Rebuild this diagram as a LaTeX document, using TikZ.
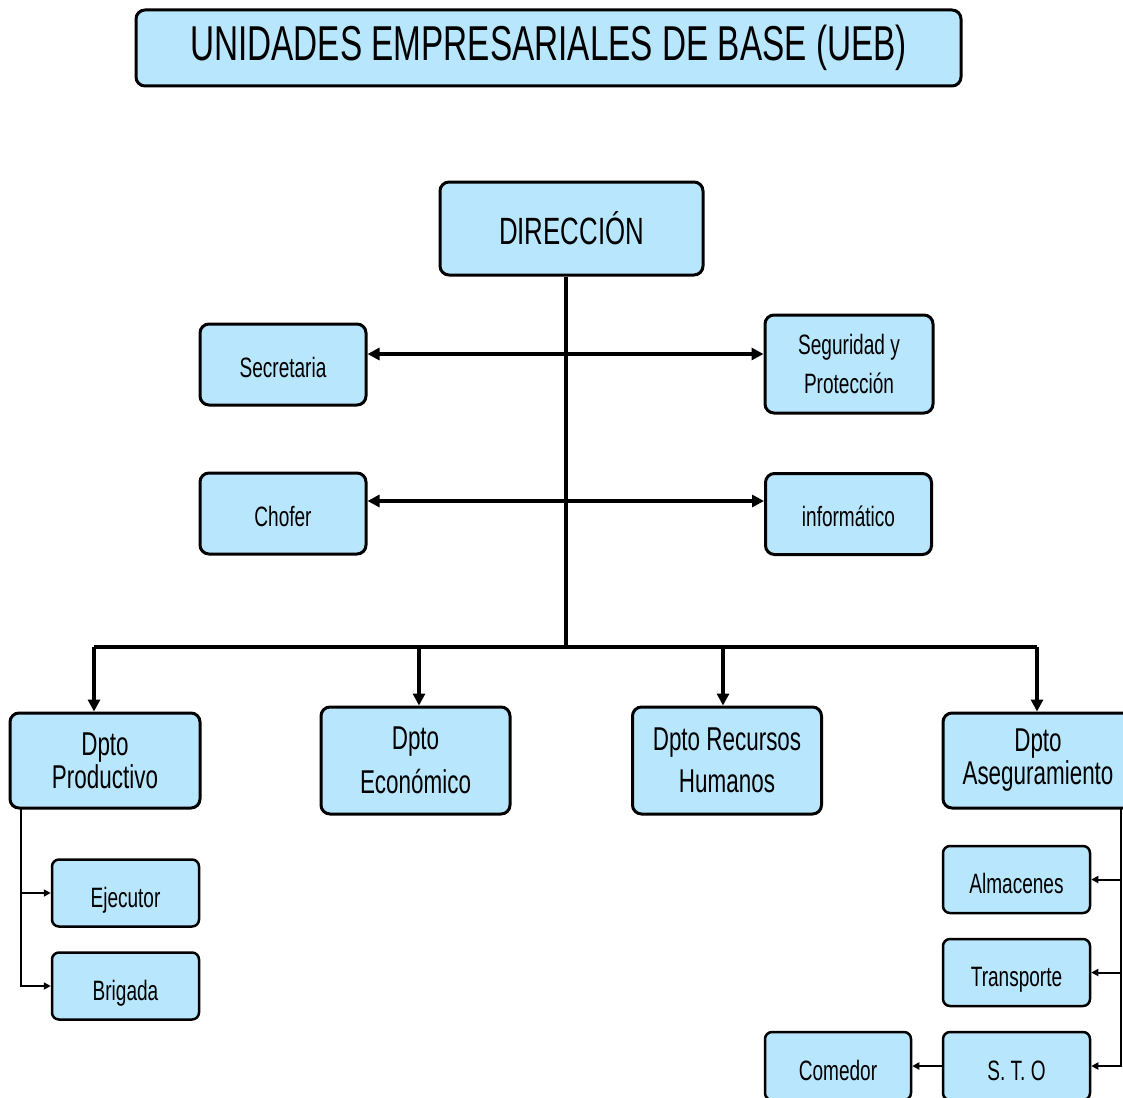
\documentclass[tikz,border=0pt]{standalone}
\usepackage{fontspec}
\setmainfont{Liberation Sans}[FakeStretch=0.68]
\usepackage{tikz}
\usetikzlibrary{
  positioning,
  arrows.meta
}
\definecolor{boxblue}{RGB}{184,230,252}
\tikzstyle{unitbox}=[draw=black, fill=boxblue, line width=3pt, rounded corners=9pt, align=center, inner sep=0pt]
\tikzstyle{staffbox}=[unitbox, minimum width=166pt, minimum height=81pt, font=\fontsize{28}{39}\selectfont]
\tikzstyle{onestaff}=[staffbox, text height=25pt, text depth=0pt]
\tikzstyle{dptobox}=[unitbox, minimum width=190pt, minimum height=95pt, font=\fontsize{33}{33}\selectfont]
\tikzstyle{subbox}=[unitbox, line width=2.5pt, rounded corners=7pt, minimum width=147pt, minimum height=67pt, text height=28pt, text depth=0pt, font=\fontsize{28}{34}\selectfont]
\tikzstyle{mainline}=[line width=4pt]
\tikzstyle{mainarrow}=[line width=4pt, -{Triangle[length=12pt,width=12pt]}]
\tikzstyle{mainboth}=[line width=4pt, {Triangle[length=12pt,width=12pt]}-{Triangle[length=12pt,width=12pt]}]
\tikzstyle{subarrow}=[line width=2pt, -{Triangle[length=7pt,width=7pt]}]

\begin{document}
\begin{tikzpicture}[x=1pt, y=-1pt]
    \useasboundingbox (0,0) rectangle (1123,1097);

    % titulo
    \node[unitbox, minimum width=825pt, minimum height=76pt, font=\fontsize{49}{49}\selectfont]
      (titulo) at (548.5,48) {UNIDADES EMPRESARIALES DE BASE (UEB)};

    % direccion y staff
    \node[unitbox, minimum width=263pt, minimum height=93pt, font=\fontsize{38}{38}\selectfont]
      (dir) at (571.5,228.5) {DIRECCIÓN};
    \node[onestaff] (secre)  at (283,364.5) {Secretaria};
    \node[staffbox, minimum width=168pt, minimum height=98pt] (segur) at (849,364) {Seguridad y\\Protección};
    \node[onestaff] (chofer) at (283,513.5) {Chofer};
    \node[onestaff] (info)   at (848.5,514) {informático};

    % departamentos
    \node[dptobox] (prod) at (105,760.5) {Dpto\\Productivo};
    \node[dptobox, minimum width=189pt, minimum height=107pt, font=\fontsize{33}{44}\selectfont]
      (econ) at (415.5,760.5) {Dpto\\Económico};
    \node[dptobox, minimum width=189pt, minimum height=107pt, font=\fontsize{33}{42}\selectfont]
      (rrhh) at (727,760.5) {Dpto Recursos\\Humanos};
    \node[dptobox] (aseg) at (1038,760.5) {Dpto\\Aseguramiento};

    % subordinados
    \node[subbox] (ejec)    at (125.5,893) {Ejecutor};
    \node[subbox] (brig)    at (125.5,986) {Brigada};
    \node[subbox] (alm)     at (1016.5,879.5) {Almacenes};
    \node[subbox] (transp)  at (1016.5,972.5) {Transporte};
    \node[subbox, minimum height=68pt] (sto) at (1016.5,1066) {S. T. O};
    \node[subbox, minimum width=146pt, minimum height=68pt] (comedor) at (838,1066) {Comedor};

    % puntos de la red
    \coordinate (bus) at (566,647);
    \coordinate (r1)  at (566,354);
    \coordinate (r2)  at (566,501);
    \coordinate (b1)  at (94,647);
    \coordinate (b2)  at (419,647);
    \coordinate (b3)  at (723,647);
    \coordinate (b4)  at (1037,647);
    \coordinate (p1)  at (21,808);
    \coordinate (a1)  at (1121,808);

    % CONECTORES
    \draw[mainline] (dir.south -| bus) -- (bus);
    \draw[mainboth] (secre.east |- r1) -- (segur.west |- r1);
    \draw[mainboth] (chofer.east |- r2) -- (info.west |- r2);
    \draw[mainline] (b1) -- (b4);
    \foreach \b/\d in {b1/prod, b2/econ, b3/rrhh, b4/aseg}
      \draw[mainarrow] (\b) -- (\b |- \d.north);

    \draw[subarrow] (p1) |- (ejec.west);
    \draw[subarrow] (p1) |- (brig.west);
    \draw[subarrow] (a1) |- (alm.east);
    \draw[subarrow] (a1) |- (transp.east);
    \draw[subarrow] (a1) |- (sto.east);
    \draw[subarrow] (sto.west) -- (comedor.east);
\end{tikzpicture}
\end{document}
